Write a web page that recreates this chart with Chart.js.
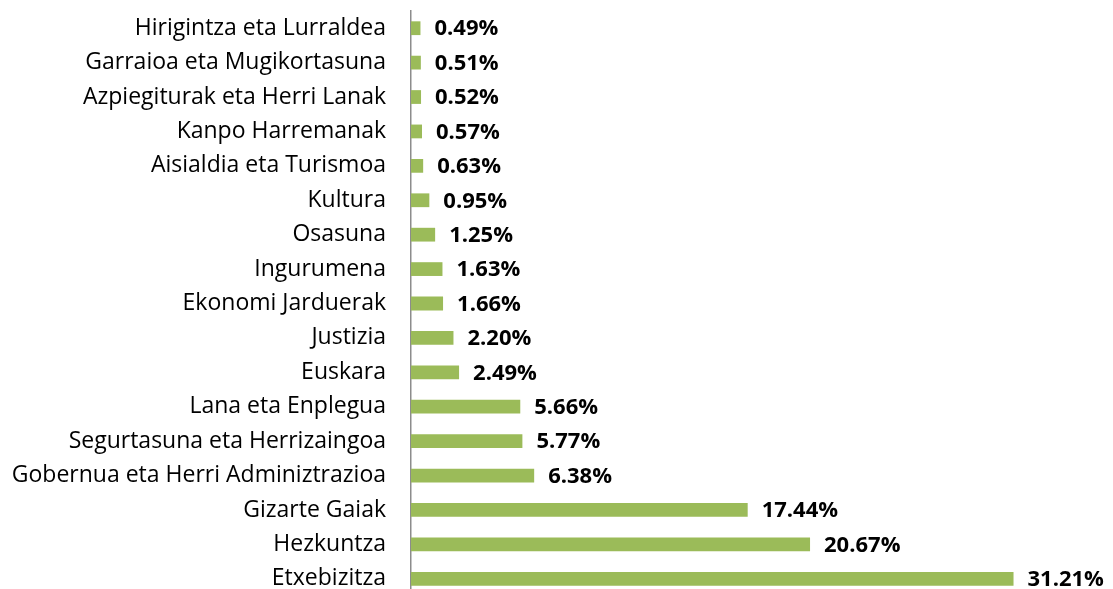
<!DOCTYPE html>
<html>
<head>
<meta charset="utf-8">
<script src="https://cdn.jsdelivr.net/npm/chart.js@4/dist/chart.umd.min.js"></script>
<style>
  html, body { margin: 0; padding: 0; background: #ffffff; overflow: hidden; }
  #wrap { width: 1113px; height: 597px; position: relative; }
</style>
</head>
<body>
<div id="wrap"><canvas id="grafico"></canvas></div>
<script>
// Datos del gráfico (porcentajes por sailak)
const categorias = [
    'Hirigintza eta Lurraldea',
    'Garraioa eta Mugikortasuna',
    'Azpiegiturak eta Herri Lanak',
    'Kanpo Harremanak',
    'Aisialdia eta Turismoa',
    'Kultura',
    'Osasuna',
    'Ingurumena',
    'Ekonomi Jarduerak',
    'Justizia',
    'Euskara',
    'Lana eta Enplegua',
    'Segurtasuna eta Herrizaingoa',
    'Gobernua eta Herri Adminiztrazioa',
    'Gizarte Gaiak',
    'Hezkuntza',
    'Etxebizitza'
];
const valores = [0.49, 0.51, 0.52, 0.57, 0.63, 0.95, 1.25, 1.63, 1.66, 2.20, 2.49, 5.66, 5.77, 6.38, 17.44, 20.67, 31.21];

const fuente = "'Open Sans', Lato, sans-serif";

// Etiquetas de valor a la derecha de cada barra
const etiquetasValor = {
    id: 'etiquetasValor',
    afterDatasetsDraw(chart) {
        const ctx = chart.ctx;
        const meta = chart.getDatasetMeta(0);
        ctx.save();
        ctx.font = 'bold 22px ' + fuente;
        ctx.fillStyle = '#000000';
        ctx.textAlign = 'left';
        ctx.textBaseline = 'middle';
        meta.data.forEach((barra, i) => {
            ctx.fillText(valores[i].toFixed(2) + '%', barra.x + 14, barra.y + 1);
        });
        ctx.restore();
    }
};

const ctx = document.getElementById('grafico');
new Chart(ctx, {
    type: 'bar',
    data: {
        labels: categorias,
        datasets: [{
            data: valores,
            backgroundColor: '#9BBB59',
            borderWidth: 0,
            barPercentage: 0.4,
            categoryPercentage: 1
        }]
    },
    options: {
        indexAxis: 'y',
        responsive: true,
        maintainAspectRatio: false,
        animation: false,
        layout: { padding: { top: 11, right: 7, bottom: 1, left: 0 } },
        plugins: {
            legend: { display: false },
            tooltip: { enabled: false }
        },
        scales: {
            x: {
                display: false,
                min: 0,
                max: 36
            },
            y: {
                afterFit: function(scale) {
                    scale.width = 411;
                    scale.paddingTop = 0;
                    scale.paddingBottom = 0;
                },
                grid: { display: false, drawTicks: false },
                border: { display: true, color: '#8c8c8c', width: 1.5 },
                ticks: {
                    padding: 25,
                    color: '#000000',
                    font: { size: 23, family: fuente }
                }
            }
        }
    },
    plugins: [etiquetasValor]
});
</script>
</body>
</html>
